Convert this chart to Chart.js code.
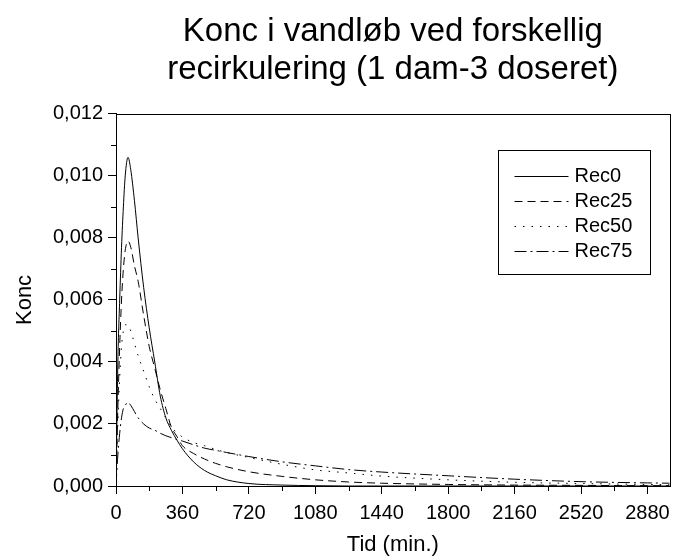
<!doctype html>
<html lang="da">
<head>
<meta charset="utf-8">
<title>Konc i vandløb</title>
<script src="https://cdn.jsdelivr.net/npm/chart.js@4/dist/chart.umd.min.js"></script>
<style>
  html, body { margin: 0; padding: 0; background: #fff; }
  #wrap { width: 677px; height: 560px; }
</style>
</head>
<body>
<div id="wrap"><canvas id="kurve"></canvas></div>
<script>
// tid i minutter
var tid   = [0, 10, 20, 30, 40, 50, 65, 80, 100, 120, 150, 180, 210, 240, 270, 300, 330, 360, 420, 480, 540, 600, 720, 900, 1080, 1260, 1440, 1800, 2160, 2520, 2880, 3000];
var rec0  = [0, 0.0040, 0.0060, 0.0077, 0.0090, 0.0100, 0.0106, 0.0102, 0.0092, 0.0080, 0.0064, 0.0051, 0.0040, 0.0029, 0.0022, 0.0018, 0.00148, 0.0012, 0.00078, 0.0005, 0.00033, 0.0002, 0.00008, 0.00003, 0.00001, 0, 0, 0, 0, 0, 0, 0];
var rec25 = [0, 0.0025, 0.0045, 0.0060, 0.0070, 0.0076, 0.0079, 0.0077, 0.0071, 0.0066, 0.0055, 0.0045, 0.0038, 0.0031, 0.0025, 0.0019, 0.0016, 0.0013, 0.00105, 0.00087, 0.00073, 0.00062, 0.00046, 0.00031, 0.0002, 0.00013, 0.00009, 0.00005, 0.00003, 0.00002, 0.00001, 0.00001];
var rec50 = [0, 0.0020, 0.0035, 0.0045, 0.0050, 0.0052, 0.0052, 0.0050, 0.0046, 0.0042, 0.0037, 0.0032, 0.0028, 0.0025, 0.0022, 0.0019, 0.00172, 0.00158, 0.0014, 0.0013, 0.00118, 0.00108, 0.00092, 0.0007, 0.00052, 0.00042, 0.00032, 0.0002, 0.00012, 0.00008, 0.00005, 0.00004];
var rec75 = [0, 0.0010, 0.0017, 0.0022, 0.0025, 0.0026, 0.0027, 0.0026, 0.0024, 0.0022, 0.0020, 0.00187, 0.0018, 0.0017, 0.00162, 0.00156, 0.0015, 0.00145, 0.00133, 0.00122, 0.00115, 0.00108, 0.00095, 0.00078, 0.00065, 0.00053, 0.00045, 0.00033, 0.00022, 0.00014, 0.0001, 0.00009];

var serieNavne = ["Rec0", "Rec25", "Rec50", "Rec75"];
var xTicks = [0, 360, 720, 1080, 1440, 1800, 2160, 2520, 2880];

var font = "Arial, 'Liberation Sans', sans-serif";

function punkter(arr) {
  return arr.map(function (v, i) { return { x: tid[i], y: v }; });
}

function serie(navn, arr, dash) {
  return {
    label: navn,
    data: punkter(arr),
    borderColor: "#000",
    borderWidth: 1,
    borderDash: dash,
    pointRadius: 0,
    fill: false,
    cubicInterpolationMode: "monotone"
  };
}

// ramme, små ticks og legend tegnes her
var pynt = {
  id: "pynt",
  afterDraw: function (chart) {
    var ctx = chart.ctx;
    var a = chart.chartArea;
    var xs = chart.scales.x, ys = chart.scales.y;
    ctx.save();
    ctx.strokeStyle = "#000";
    ctx.lineWidth = 1;
    ctx.setLineDash([]);
    ctx.strokeRect(Math.round(a.left) + 0.5, Math.round(a.top) + 0.5, Math.round(a.right - a.left), Math.round(a.bottom - a.top));

    // minor ticks
    ctx.beginPath();
    for (var t = 180; t < 3000; t += 360) {
      var px = Math.round(xs.getPixelForValue(t)) + 0.5;
      ctx.moveTo(px, a.bottom);
      ctx.lineTo(px, a.bottom + 5);
    }
    for (var k = 0; k < 6; k++) {
      var py = Math.round(ys.getPixelForValue(0.001 + k * 0.002)) + 0.5;
      ctx.moveTo(a.left, py);
      ctx.lineTo(a.left - 5, py);
    }
    ctx.stroke();

    // legend
    var bx = Math.round(a.right - 172) + 0.5, by = Math.round(a.top + 36) + 0.5;
    ctx.strokeRect(bx, by, 152, 124);
    ctx.font = "20px " + font;
    ctx.fillStyle = "#000";
    ctx.textBaseline = "middle";
    chart.data.datasets.forEach(function (ds, i) {
      var y = Math.round(by + 25 + i * 25) + 0.5;
      ctx.setLineDash(ds.borderDash || []);
      ctx.beginPath();
      ctx.moveTo(bx + 16, y);
      ctx.lineTo(bx + 70, y);
      ctx.stroke();
      ctx.fillText(ds.label, bx + 76, y);
    });
    ctx.restore();
  }
};

new Chart(document.getElementById("kurve"), {
  type: "line",
  data: {
    datasets: [
      serie(serieNavne[0], rec0, []),
      serie(serieNavne[1], rec25, [8, 5]),
      serie(serieNavne[2], rec50, [1.5, 7]),
      serie(serieNavne[3], rec75, [12, 4, 2, 4])
    ]
  },
  options: {
    responsive: true,
    maintainAspectRatio: false,
    animation: false,
    layout: { padding: { left: 0, right: 5, top: 0, bottom: 0 } },
    plugins: {
      legend: { display: false },
      tooltip: { enabled: false },
      title: {
        display: true,
        fullSize: false,
        text: ["Konc i vandløb ved forskellig", "recirkulering (1 dam-3 doseret)"],
        color: "#000",
        font: { family: font, size: 33, weight: "normal", lineHeight: 1.15 },
        padding: { top: 13, bottom: 25 }
      }
    },
    scales: {
      x: {
        type: "linear",
        min: 0,
        max: 3000,
        afterFit: function (s) { s.height = 74; },
        afterBuildTicks: function (s) { s.ticks = xTicks.map(function (v) { return { value: v }; }); },
        ticks: { color: "#000", font: { family: font, size: 20 }, padding: 7, maxRotation: 0,
                 callback: function (v) { return String(v); } },
        grid: { display: true, drawOnChartArea: false, drawTicks: true, tickLength: 8, tickColor: "#000" },
        border: { display: true, color: "#000", width: 1 },
        title: { display: true, text: "Tid (min.)", color: "#000", font: { family: font, size: 22 }, padding: { top: 2, bottom: 2 } }
      },
      y: {
        min: 0,
        max: 0.012,
        afterFit: function (s) { s.width = 116; },
        ticks: { stepSize: 0.002, color: "#000", font: { family: font, size: 20 }, padding: 5,
                 callback: function (v) { return v.toFixed(3).replace(".", ","); } },
        grid: { display: true, drawOnChartArea: false, drawTicks: true, tickLength: 8, tickColor: "#000" },
        border: { display: true, color: "#000", width: 1 },
        title: { display: true, text: "Konc", color: "#000", font: { family: font, size: 22 }, padding: { top: 12, bottom: 0 } }
      }
    }
  },
  plugins: [pynt]
});
</script>
</body>
</html>
